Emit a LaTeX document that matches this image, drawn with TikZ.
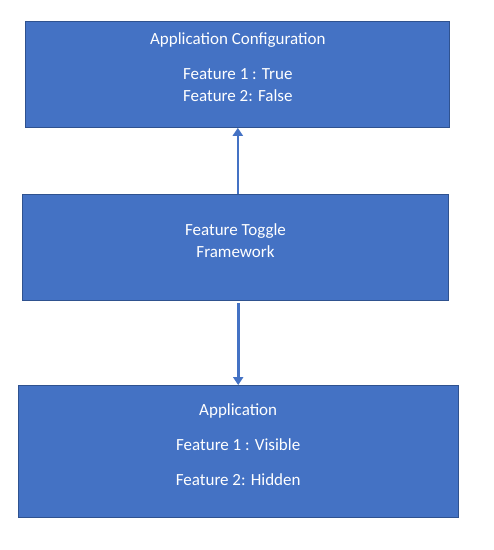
\documentclass[tikz,border=0pt]{standalone}
\usepackage{fontspec}
\setmainfont{Carlito}
\usetikzlibrary{arrows.meta,positioning}
\definecolor{boxfill}{HTML}{4472C4}
\definecolor{boxline}{HTML}{2F528F}

\begin{document}
\begin{tikzpicture}[
                x=1pt, y=-1pt,
                box/.style={draw=boxline, fill=boxfill, line width=1.3pt, text=white, align=center,
                            inner sep=0pt, text depth=4pt, font=\fontsize{17}{22.7}\selectfont},
                arrow/.style={-{Triangle[width=10pt,length=8pt]}, draw=boxfill, line width=2.6pt}
            ]
            \useasboundingbox (0,0) rectangle (494,550);

            \node[box, minimum width=424pt, minimum height=106pt, text height=59pt] (config) at (237.8,74.2)
                {Application Configuration\\[12pt]Feature 1 : True\\Feature 2: False};
            \node[box, minimum width=426pt, minimum height=106pt, text height=24.4pt] (toggle) at (235.5,247.5)
                {Feature Toggle\\Framework};
            \node[box, minimum width=440pt, minimum height=132pt, text height=70.6pt] (app) at (238.2,451.7)
                {Application\\[12pt]Feature 1 : Visible\\[12pt]Feature 2: Hidden};

            \draw[arrow] (config.south |- toggle.north) -- (config.south);
            \draw[arrow] ([yshift=-2pt]app.north |- toggle.south) -- (app.north);

        \end{tikzpicture}
\end{document}
